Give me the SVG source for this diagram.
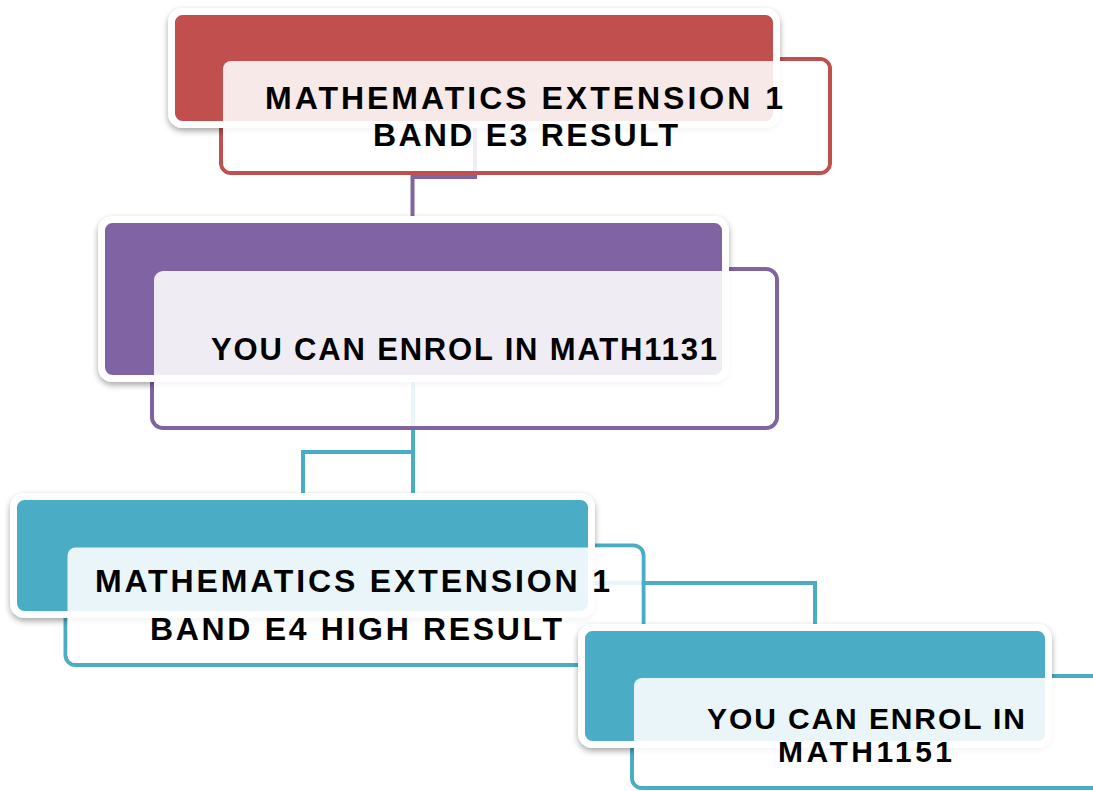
<svg xmlns="http://www.w3.org/2000/svg" width="1093" height="791" viewBox="0 0 1093 791">
<defs>
<filter id="sh" x="-10%" y="-20%" width="120%" height="150%">
<feDropShadow dx="0" dy="3" stdDeviation="3" flood-color="#000" flood-opacity="0.35"/>
</filter>
<style>
.bg{fill:#ffffff}
.ov{fill:#ffffff;fill-opacity:0.88;stroke:none}
.back{stroke:#ffffff;stroke-width:7;filter:url(#sh)}
.out{fill:none;stroke-width:4}
.con{fill:none;stroke-width:4;stroke-linejoin:miter}
.t{font-family:"Liberation Sans",Arial,sans-serif;font-weight:bold;font-size:32px;fill:#000;text-anchor:middle}
.t2{font-size:31px}
.t4{font-size:30px}
.red{stroke:#c0504d}.redf{fill:#c0504d}
.pur{stroke:#8064a2}.purf{fill:#8064a2}
.teal{stroke:#4bacc6}.tealf{fill:#4bacc6}
</style>
</defs>
<rect class="bg" x="0" y="0" width="1093" height="791"/>
<g id="connectors">
<path class="con pur" d="M475,121 V177 H412.5 V220"/>
<path class="con teal" d="M413,375 V452 H303 V497"/>
<path class="con teal" d="M413,375 V583 H815 V628"/>
</g>
<g id="node1">
<rect class="out red" x="221" y="59" width="609" height="114" rx="10"/>
<rect class="back redf" x="171.5" y="11.5" width="605" height="113" rx="11"/>
<rect class="ov" x="223" y="61" width="605" height="110" rx="8"/>
<text class="t" x="524" y="109" textLength="518" lengthAdjust="spacing">MATHEMATICS EXTENSION 1</text>
<text class="t" x="525.5" y="146" textLength="305" lengthAdjust="spacing">BAND E3 RESULT</text>
</g>
<g id="node2">
<rect class="out pur" x="152" y="269" width="625" height="159" rx="11"/>
<rect class="back purf" x="101.5" y="219.5" width="624" height="159" rx="11"/>
<rect class="ov" x="154" y="271" width="621" height="155" rx="9"/>
<text class="t t2" x="464" y="360" textLength="506" lengthAdjust="spacing">YOU CAN ENROL IN MATH1131</text>
</g>
<g id="node3">
<rect class="out teal" x="65.5" y="545.5" width="578" height="119.5" rx="10"/>
<rect class="back tealf" x="13.5" y="496.5" width="578" height="118" rx="11"/>
<rect class="ov" x="67.5" y="547.5" width="574" height="115.5" rx="8"/>
<text class="t" x="352.5" y="592" textLength="515" lengthAdjust="spacing">MATHEMATICS EXTENSION 1</text>
<text class="t" x="356" y="640" textLength="412" lengthAdjust="spacing">BAND E4 HIGH RESULT</text>
</g>
<g id="node4">
<rect class="out teal" x="632" y="676" width="470" height="112" rx="10"/>
<rect class="back tealf" x="581.5" y="627.5" width="467" height="117" rx="11"/>
<rect class="ov" x="634" y="678" width="466" height="108" rx="8"/>
<text class="t t4" x="866" y="729" textLength="318" lengthAdjust="spacing">YOU CAN ENROL IN</text>
<text class="t t4" x="865" y="762" textLength="174" lengthAdjust="spacing">MATH1151</text>
</g>
</svg>
